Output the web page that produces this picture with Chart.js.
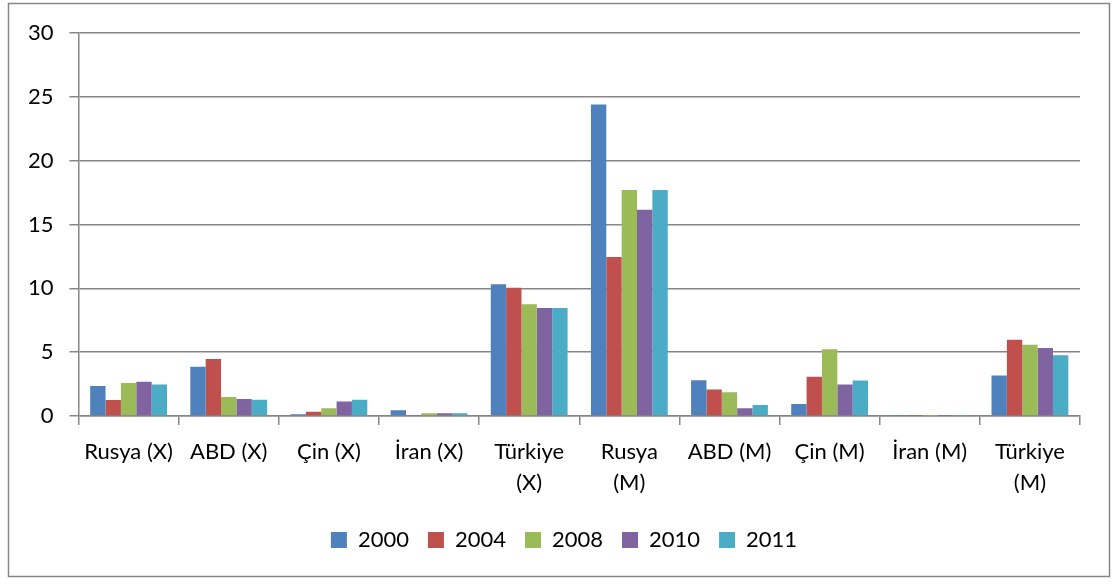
<!DOCTYPE html>
<html>
<head>
<meta charset="utf-8">
<script src="https://cdn.jsdelivr.net/npm/chart.js@4"></script>
<style>
  html, body { margin: 0; padding: 0; background: #fff; }
  #wrap { width: 1115px; height: 584px; position: relative; }
</style>
</head>
<body>
<div id="wrap"><canvas id="myChart" width="1115" height="584"></canvas></div>
<script>
// categories: (X) = export, (M) = import
var categories = ['Rusya (X)', 'ABD (X)', 'Çin (X)', 'İran (X)', ['Türkiye', '(X)'],
                  ['Rusya', '(M)'], 'ABD (M)', 'Çin (M)', 'İran (M)', ['Türkiye', '(M)']];
var years = ['2000', '2004', '2008', '2010', '2011'];
var y2000 = [2.35, 3.87, 0.15, 0.45, 10.33, 24.4, 2.8, 0.94, 0.03, 3.17];
var y2004 = [1.25, 4.47, 0.34, 0.05, 10.05, 12.45, 2.08, 3.08, 0.03, 5.98];
var y2008 = [2.6, 1.5, 0.62, 0.23, 8.76, 17.7, 1.87, 5.24, 0.03, 5.58];
var y2010 = [2.68, 1.33, 1.15, 0.23, 8.46, 16.15, 0.62, 2.48, 0.03, 5.34];
var y2011 = [2.48, 1.28, 1.27, 0.23, 8.46, 17.7, 0.86, 2.78, 0.03, 4.76];
var yTicks = [0, 5, 10, 15, 20, 25, 30];

var colors = ['#4F81BD', '#C0504D', '#9BBB59', '#8064A2', '#4BACC6'];
var series = [y2000, y2004, y2008, y2010, y2011];

// outer frame around the whole chart, legend centred on the frame
var frame = {
  id: 'frame',
  afterLayout: function(chart) {
    chart.legend.left += 18;
    chart.legend.right += 18;
  },
  beforeDraw: function(chart) {
    var c = chart.ctx;
    c.save();
    c.fillStyle = '#fff';
    c.fillRect(0, 0, chart.width, chart.height);
    c.strokeStyle = '#868686';
    c.lineWidth = 1.5;
    c.strokeRect(8.5, 3.5, 1101, 573);
    c.restore();
  }
};

var ctx = document.getElementById('myChart').getContext('2d');
var myChart = new Chart(ctx, {
  type: 'bar',
  data: {
    labels: categories,
    datasets: years.map(function(y, i) {
      return {
        label: y,
        data: series[i],
        backgroundColor: colors[i],
        borderWidth: 0,
        barPercentage: 1.0,
        categoryPercentage: 0.767
      };
    })
  },
  options: {
    responsive: false,
    animation: false,
    layout: { padding: { left: 12, right: 35, top: 33, bottom: 23 } },
    font: { family: 'Lato' },
    plugins: {
      tooltip: { enabled: false },
      legend: {
        position: 'bottom',
        labels: {
          boxWidth: 16,
          boxHeight: 16,
          padding: 19,
          color: '#000',
          font: { family: 'Lato', size: 22 }
        }
      }
    },
    scales: {
      x: {
        offset: true,
        grid: {
          offset: true,
          drawOnChartArea: false,
          drawTicks: true,
          tickLength: 9,
          color: '#868686',
          lineWidth: 1.5
        },
        border: { display: true, color: '#868686', width: 1.5 },
        ticks: {
          color: '#000',
          maxRotation: 0,
          autoSkip: false,
          padding: 11,
          font: { family: 'Lato', size: 22, lineHeight: 1.43 }
        }
      },
      y: {
        min: 0,
        max: 30,
        afterBuildTicks: function(axis) {
          axis.ticks = yTicks.map(function(v) { return { value: v }; });
        },
        grid: {
          color: '#868686',
          lineWidth: 1.5,
          drawTicks: true,
          tickLength: 9
        },
        border: { display: true, color: '#868686', width: 1.5 },
        ticks: {
          color: '#000',
          padding: 16,
          font: { family: 'Lato', size: 22 }
        }
      }
    }
  },
  plugins: [frame]
});
</script>
</body>
</html>
